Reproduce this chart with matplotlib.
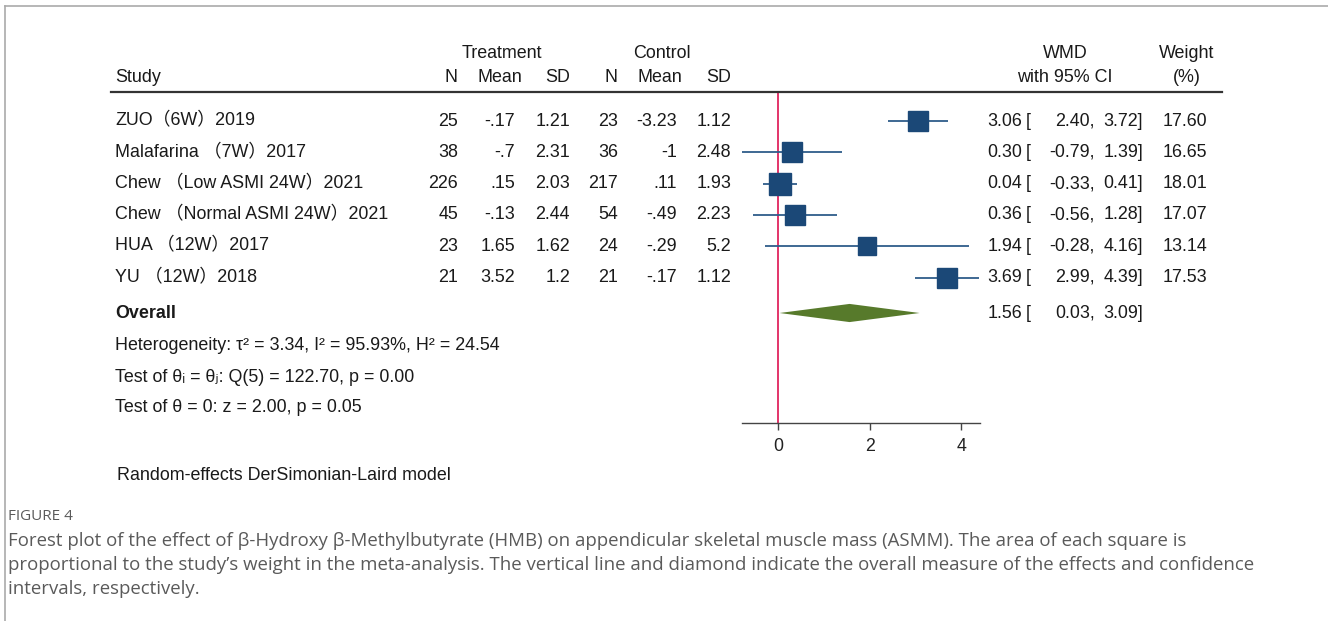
import numpy as np
import matplotlib
matplotlib.use('Agg')
import matplotlib.pyplot as plt
from matplotlib import transforms
from matplotlib.lines import Line2D

plt.rcParams['font.family'] = ['Liberation Sans', 'DejaVu Sans', 'Noto Sans CJK SC']

# study level data
studies = ['ZUO（6W）2019', 'Malafarina （7W）2017', 'Chew （Low ASMI 24W）2021',
           'Chew （Normal ASMI 24W）2021', 'HUA （12W）2017', 'YU （12W）2018']
t_n = [25, 38, 226, 45, 23, 21]
t_mean = [-0.17, -0.7, 0.15, -0.13, 1.65, 3.52]
t_sd = [1.21, 2.31, 2.03, 2.44, 1.62, 1.2]
c_n = [23, 36, 217, 54, 24, 21]
c_mean = [-3.23, -1, 0.11, -0.49, -0.29, -0.17]
c_sd = [1.12, 2.48, 1.93, 2.23, 5.2, 1.12]
wmd = [3.06, 0.30, 0.04, 0.36, 1.94, 3.69]
ci_lo = [2.40, -0.79, -0.33, -0.56, -0.28, 2.99]
ci_hi = [3.72, 1.39, 0.41, 1.28, 4.16, 4.39]
weight = [17.60, 16.65, 18.01, 17.07, 13.14, 17.53]

overall = 1.56
overall_lo = 0.03
overall_hi = 3.09

het_lines = ['Heterogeneity: τ² = 3.34, I² = 95.93%, H² = 24.54',
             'Test of θᵢ = θⱼ: Q(5) = 122.70, p = 0.00',
             'Test of θ = 0: z = 2.00, p = 0.05']

W, H = 1328, 621
fig = plt.figure(figsize=(W / 100, H / 100), dpi=100)
fig.patch.set_facecolor('white')

# forest panel, rows counted from the first study
y_top, y_bot = 92, 423
row0, row_h = 121, 31.3
ax = fig.add_axes([742 / W, 1 - y_bot / H, (980 - 742) / W, (y_bot - y_top) / H])
ax.set_xlim(-0.79, 4.41)
ax.set_ylim((y_bot - row0) / row_h, (y_top - row0) / row_h)
for s in ['top', 'right', 'left']:
    ax.spines[s].set_visible(False)
ax.spines['bottom'].set_color('#444444')
ax.spines['bottom'].set_linewidth(1.0)
ax.set_yticks([])
ax.set_xticks([0, 2, 4])
ax.tick_params(axis='x', length=5, width=1, color='#444444', labelsize=12.8,
               pad=6, labelcolor='#222222')
ax.patch.set_alpha(0)

rows = np.arange(len(studies))
ax.axvline(0, color='#e0245e', lw=1.3, zorder=1)
ax.hlines(rows, ci_lo, ci_hi, color='#2f5d8a', lw=1.3, zorder=2, clip_on=False)
k = 15.1 / np.sqrt(17.6)
for r, x, w in zip(rows, wmd, weight):
    ax.plot(x, r, marker='s', ms=k * np.sqrt(w), color='#1b4877', mec='#1b4877',
            zorder=3, clip_on=False)

y_ov = (313 - row0) / row_h
dh = 0.29
ax.fill([overall_lo, overall, overall_hi, overall],
        [y_ov, y_ov - dh, y_ov, y_ov + dh], color='#577a2b', zorder=3, lw=0)

tr = transforms.blended_transform_factory(fig.transFigure, ax.transData)
fs = 12.9
txt_col = '#1a1a1a'


def put(xpx, y, s, ha='left', **kw):
    ax.text(xpx / W, y, s, transform=tr, ha=ha, va='center', fontsize=fs,
            color=txt_col, clip_on=False, **kw)


def stata(v):
    s = f'{v:g}'
    if s.startswith('0.'):
        s = s[1:]
    elif s.startswith('-0.'):
        s = '-' + s[2:]
    return s


for r in rows:
    put(115, r, studies[r])
    put(458, r, str(t_n[r]), ha='right')
    put(515, r, stata(t_mean[r]), ha='right')
    put(570, r, stata(t_sd[r]), ha='right')
    put(618, r, str(c_n[r]), ha='right')
    put(677, r, stata(c_mean[r]), ha='right')
    put(731, r, stata(c_sd[r]), ha='right')
    put(1022, r, f'{wmd[r]:.2f}', ha='right')
    put(1026, r, '[')
    put(1095, r, f'{ci_lo[r]:.2f},', ha='right')
    put(1143, r, f'{ci_hi[r]:.2f}]', ha='right')
    put(1207, r, f'{weight[r]:.2f}', ha='right')

put(115, y_ov, 'Overall', fontweight='bold')
put(1022, y_ov, f'{overall:.2f}', ha='right')
put(1026, y_ov, '[')
put(1095, y_ov, f'{overall_lo:.2f},', ha='right')
put(1143, y_ov, f'{overall_hi:.2f}]', ha='right')
for i, line in enumerate(het_lines):
    put(115, (346 + 31 * i - row0) / row_h, line)


def ftext(xpx, ypx, s, ha='left', **kw):
    fig.text(xpx / W, 1 - ypx / H, s, ha=ha, va='center', **kw)


hdr = dict(fontsize=fs, color=txt_col)
ftext(502, 53, 'Treatment', ha='center', **hdr)
ftext(662, 53, 'Control', ha='center', **hdr)
ftext(115, 78, 'Study', **hdr)
for xpx, s in [(458, 'N'), (522, 'Mean'), (570, 'SD'),
               (618, 'N'), (682, 'Mean'), (731, 'SD')]:
    ftext(xpx, 78, s, ha='right', **hdr)
ftext(1065, 53, 'WMD', ha='center', **hdr)
ftext(1065, 78, 'with 95% CI', ha='center', **hdr)
ftext(1187, 53, 'Weight', ha='center', **hdr)
ftext(1187, 78, '(%)', ha='center', **hdr)
fig.add_artist(Line2D([111 / W, 1222 / W], [1 - 92 / H, 1 - 92 / H],
                      color='#333333', lw=1.6))

ftext(117, 475, 'Random-effects DerSimonian-Laird model', **hdr)

# caption block
cap = dict(family=['Open Sans', 'DejaVu Sans'], color='#5a5a5a')
ftext(8, 516, 'FIGURE 4', fontsize=11, **cap)
caption = ['Forest plot of the effect of β-Hydroxy β-Methylbutyrate (HMB) on appendicular skeletal muscle mass (ASMM). The area of each square is',
           'proportional to the study’s weight in the meta-analysis. The vertical line and diamond indicate the overall measure of the effects and confidence',
           'intervals, respectively.']
for i, line in enumerate(caption):
    ftext(8, 541 + 24 * i, line, fontsize=13.4, **cap)

# page frame
fig.add_artist(Line2D([5 / W, 1], [1 - 6 / H, 1 - 6 / H], color='#aaaaaa', lw=1.2))
fig.add_artist(Line2D([5 / W, 5 / W], [1 - 6 / H, 0], color='#aaaaaa', lw=1.2))

fig.savefig('out.png', dpi=100, facecolor='white')
